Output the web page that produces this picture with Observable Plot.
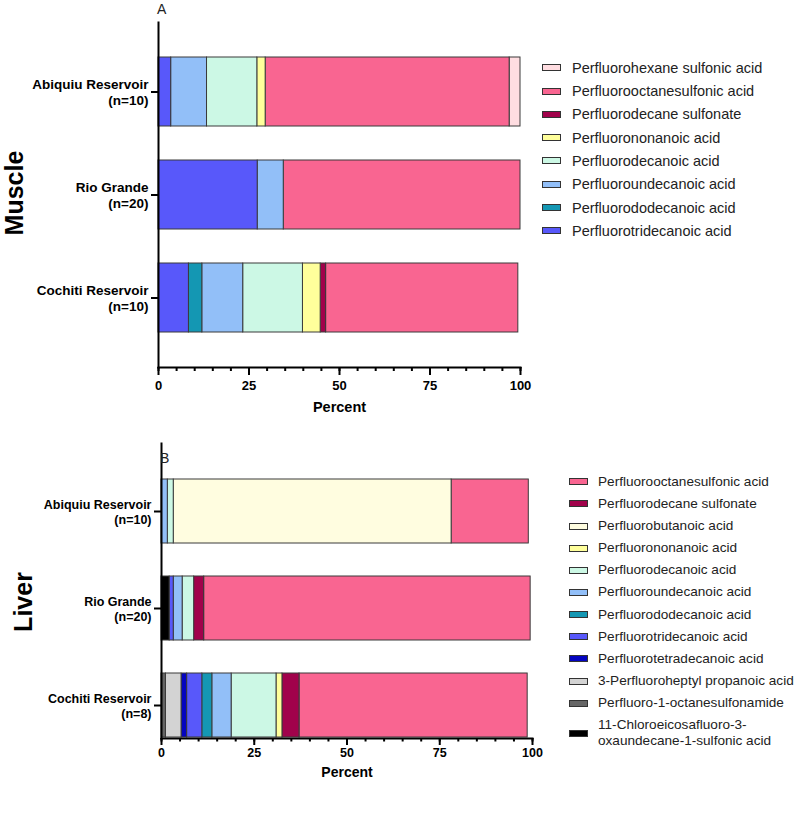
<!DOCTYPE html>
<html>
<head>
<meta charset="utf-8">
<script src="https://cdn.jsdelivr.net/npm/d3@7"></script>
<script src="https://cdn.jsdelivr.net/npm/@observablehq/plot@0.6"></script>
<style>
  body { margin: 0; background: #fff; font-family: "Liberation Sans", Arial, sans-serif; }
  #page { position: relative; width: 798px; height: 815px; overflow: hidden; background: #fff; }
  .panel { position: absolute; left: 0; }
  .tag { position: absolute; font-size: 14px; color: #222; line-height: 1; }
  .tissue { position: absolute; font-weight: bold; font-size: 25px; color: #000; white-space: nowrap; line-height: 1;
            transform: translate(-50%, -50%) rotate(-90deg); }
  .row { position: absolute; white-space: pre; color: #222; line-height: 16px; }
  .sw { position: absolute; width: 17px; height: 5px; border: 1px solid #333; }
</style>
</head>
<body>
<div id="page"></div>
<script>
// Sampling sites and sample sizes
const sites = ["Abiquiu Reservoir", "Rio Grande", "Cochiti Reservoir"];
const muscleN = [10, 20, 10];
const liverN = [10, 20, 8];

// Muscle: compounds in legend order (top to bottom) and percent of total PFAS per site
const muscleCompounds = [
  "Perfluorohexane sulfonic acid",
  "Perfluorooctanesulfonic acid",
  "Perfluorodecane sulfonate",
  "Perfluorononanoic acid",
  "Perfluorodecanoic acid",
  "Perfluoroundecanoic acid",
  "Perfluorododecanoic acid",
  "Perfluorotridecanoic acid"
];
const muscleAbiquiu   = [3.0, 67.4, 0,   2.3, 13.9,  9.9, 0,   3.5];
const muscleRioGrande = [0,   65.4, 0,   0,    0,    7.2, 0,  27.4];
const muscleCochiti   = [0,   53.1, 1.5, 4.9, 16.5, 11.3, 3.7, 8.4];

// Liver: compounds in legend order and percent of total PFAS per site
const liverCompounds = [
  "Perfluorooctanesulfonic acid",
  "Perfluorodecane sulfonate",
  "Perfluorobutanoic acid",
  "Perfluorononanoic acid",
  "Perfluorodecanoic acid",
  "Perfluoroundecanoic acid",
  "Perfluorododecanoic acid",
  "Perfluorotridecanoic acid",
  "Perfluorotetradecanoic acid",
  "3-Perfluoroheptyl propanoic acid",
  "Perfluoro-1-octanesulfonamide",
  "11-Chloroeicosafluoro-3-oxaundecane-1-sulfonic acid"
];
const liverAbiquiu   = [20.8, 0,   74.9, 0,   1.6,  1.7, 0,   0,   0,   0,   0,   0];
const liverRioGrande = [88.0, 2.7,  0,   0,   3.1,  2.4, 0,   1.1, 0,   0,   0,   2.2];
const liverCochiti   = [61.5, 4.6,  0,   1.6, 12.1, 5.2, 2.7, 4.1, 1.5, 4.2, 1.2, 0];

const xTicks = [0, 25, 50, 75, 100];

// Fill colour per compound
const palette = new Map([
  ["Perfluorohexane sulfonic acid", "#FFDDE1"],
  ["Perfluorooctanesulfonic acid", "#F96591"],
  ["Perfluorodecane sulfonate", "#A1024B"],
  ["Perfluorobutanoic acid", "#FFFDE0"],
  ["Perfluorononanoic acid", "#FFFF9B"],
  ["Perfluorodecanoic acid", "#CCF8E5"],
  ["Perfluoroundecanoic acid", "#92BFF8"],
  ["Perfluorododecanoic acid", "#1497B3"],
  ["Perfluorotridecanoic acid", "#5858FA"],
  ["Perfluorotetradecanoic acid", "#0404C0"],
  ["3-Perfluoroheptyl propanoic acid", "#D3D3D3"],
  ["Perfluoro-1-octanesulfonamide", "#666666"],
  ["11-Chloroeicosafluoro-3-oxaundecane-1-sulfonic acid", "#000000"]
]);

const FONT = "Liberation Sans, Arial, Helvetica, sans-serif";
const page = document.getElementById("page");

function tidy(compounds, perSite) {
  const rows = [];
  sites.forEach((site, s) => {
    compounds.forEach((c, i) => {
      const v = perSite[s][i];
      if (v > 0) rows.push({site, compound: c, value: v});
    });
  });
  return rows;
}

function drawPanel(cfg) {
  const rows = tidy(cfg.compounds, cfg.values);
  // stacked left to right in reverse legend order
  const stackOrder = cfg.compounds.slice().reverse();
  const chart = Plot.plot({
    width: 798,
    height: cfg.height,
    marginLeft: cfg.x0,
    marginRight: 798 - cfg.x1,
    marginTop: cfg.top,
    marginBottom: cfg.height - cfg.bottom,
    style: {fontFamily: FONT, background: "transparent", color: "#000", overflow: "visible"},
    x: {domain: [0, 100]},
    y: {domain: sites, paddingInner: cfg.pi, paddingOuter: cfg.po, align: cfg.align, label: null},
    color: {domain: cfg.compounds, range: cfg.compounds.map(c => palette.get(c))},
    marks: [
      Plot.barX(rows, Plot.stackX({
        x: "value", y: "site", fill: "compound", order: stackOrder,
        stroke: "#3a3a3a", strokeWidth: 1, inset: 0
      })),
      Plot.frame({anchor: "left", stroke: "#000", strokeWidth: 2}),
      Plot.frame({anchor: "bottom", stroke: "#000", strokeWidth: 2}),
      // minor ticks every 5 %
      Plot.axisX({ticks: d3.range(0, 101, 5), tickSize: cfg.minor, strokeWidth: 2, tickFormat: () => "", label: null}),
      // major ticks with labels
      Plot.axisX({ticks: xTicks, tickSize: cfg.major, strokeWidth: 2, tickPadding: cfg.tickPad,
                  fontSize: cfg.xFont, fontWeight: "bold", fill: "#000", label: null}),
      Plot.axisY({tickSize: 7, tickPadding: 3, strokeWidth: 2, fontSize: cfg.yFont, fontWeight: "bold",
                  fill: "#000", lineHeight: cfg.lh, label: null,
                  tickFormat: d => `${d}\n(n=${cfg.n[sites.indexOf(d)]})`}),
      Plot.text(["Percent"], {frameAnchor: "bottom", dy: cfg.labelDy, fontSize: cfg.titleFont, fontWeight: "bold",
                              fill: "#000", lineAnchor: "middle"})
    ]
  });
  const wrap = document.createElement("div");
  wrap.className = "panel";
  wrap.style.top = cfg.svgTop + "px";
  wrap.appendChild(chart);
  page.appendChild(wrap);

  // panel letter
  const tag = document.createElement("div");
  tag.className = "tag";
  tag.textContent = cfg.letter;
  tag.style.left = cfg.letterX + "px";
  tag.style.top = cfg.letterY + "px";
  page.appendChild(tag);

  // tissue label, rotated
  const tissue = document.createElement("div");
  tissue.className = "tissue";
  tissue.textContent = cfg.tissue;
  tissue.style.left = cfg.tissueX + "px";
  tissue.style.top = cfg.tissueY + "px";
  page.appendChild(tissue);

  // legend, same order as the compound list
  let extra = 0;
  cfg.compounds.forEach((c, i) => {
    const label = c.replace("-3-oxa", "-3-\noxa");
    const lines = label.split("\n").length;
    const firstLine = cfg.legTop + i * cfg.legStep + extra;
    const center = firstLine + (lines - 1) * 8;
    extra += (lines - 1) * 8;
    const sw = document.createElement("div");
    sw.className = "sw";
    sw.style.left = cfg.swX + "px";
    sw.style.top = (center - 3.5) + "px";
    sw.style.background = palette.get(c);
    page.appendChild(sw);
    const t = document.createElement("div");
    t.className = "row";
    t.textContent = label;
    t.style.left = cfg.textX + "px";
    t.style.top = (firstLine - 8) + "px";
    t.style.fontSize = cfg.legFont + "px";
    page.appendChild(t);
  });
}

drawPanel({
  letter: "A", letterX: 157, letterY: 2,
  tissue: "Muscle", tissueX: 13.5, tissueY: 193,
  compounds: muscleCompounds, values: [muscleAbiquiu, muscleRioGrande, muscleCochiti], n: muscleN,
  svgTop: 0, height: 420, top: 22, bottom: 367, x0: 158, x1: 520,
  pi: 1 / 3, po: 1 / 3, align: 0.5, yFont: 13.5, lh: 1.19,
  major: 8, minor: 4, tickPad: 5, xFont: 13, titleFont: 14.5, labelDy: 40,
  swX: 542, textX: 572, legTop: 67.7, legStep: 23.3, legFont: 14.5
});

drawPanel({
  letter: "B", letterX: 160, letterY: 451,
  tissue: "Liver", tissueX: 23, tissueY: 602,
  compounds: liverCompounds, values: [liverAbiquiu, liverRioGrande, liverCochiti], n: liverN,
  svgTop: 425, height: 390, top: 18, bottom: 313, x0: 161, x1: 532,
  pi: 0.342, po: 0.182, align: 0.97, yFont: 12.5, lh: 1.25,
  major: 7, minor: 3.5, tickPad: 3, xFont: 12.5, titleFont: 14, labelDy: 34,
  swX: 569, textX: 598, legTop: 481.7, legStep: 22.15, legFont: 13.6
});
</script>
</body>
</html>
